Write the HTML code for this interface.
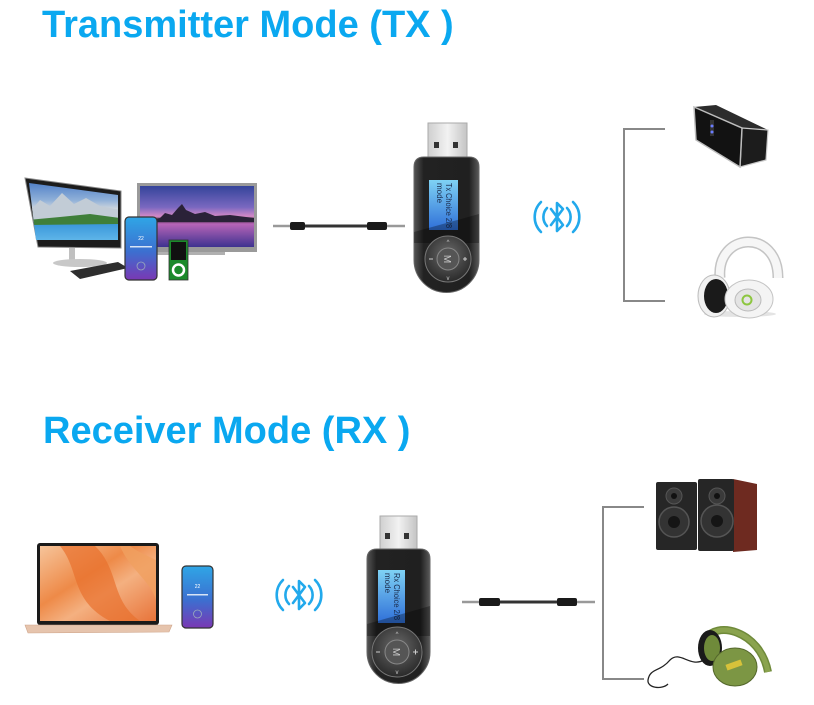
<!DOCTYPE html>
<html><head><meta charset="utf-8"><style>
html,body{margin:0;padding:0;background:#fff;width:814px;height:705px;overflow:hidden}
svg{display:block}
</style></head><body>
<svg width="814" height="705" viewBox="0 0 814 705" xmlns="http://www.w3.org/2000/svg">
<defs>
<linearGradient id="mon" x1="0" y1="0" x2="0" y2="1">
<stop offset="0" stop-color="#4f7fc8"/><stop offset="0.3" stop-color="#8fb0d8"/><stop offset="0.45" stop-color="#cfd6dd"/><stop offset="0.55" stop-color="#4d8a44"/><stop offset="0.62" stop-color="#2f8fd6"/><stop offset="1" stop-color="#63b8ea"/></linearGradient>
<linearGradient id="tv" x1="0" y1="0" x2="0" y2="1">
<stop offset="0" stop-color="#34449a"/><stop offset="0.35" stop-color="#7a68c0"/><stop offset="0.5" stop-color="#d58ac6"/><stop offset="0.56" stop-color="#2a2030"/><stop offset="0.62" stop-color="#b865b8"/><stop offset="1" stop-color="#3e3290"/></linearGradient>
<linearGradient id="ph" x1="0" y1="0" x2="0" y2="1">
<stop offset="0" stop-color="#2fa6e6"/><stop offset="0.55" stop-color="#3c6fd0"/><stop offset="1" stop-color="#7a38b4"/></linearGradient>
<linearGradient id="lap" x1="0" y1="0" x2="1" y2="1">
<stop offset="0" stop-color="#f6c49a"/><stop offset="0.4" stop-color="#ee8a48"/><stop offset="0.6" stop-color="#f4b080"/><stop offset="1" stop-color="#e8743a"/></linearGradient>
<linearGradient id="usb" x1="0" y1="0" x2="1" y2="0">
<stop offset="0" stop-color="#cfcfcf"/><stop offset="0.5" stop-color="#f2f2f2"/><stop offset="1" stop-color="#c4c4c4"/></linearGradient>
<linearGradient id="body" x1="0" y1="0" x2="1" y2="0">
<stop offset="0" stop-color="#555"/><stop offset="0.15" stop-color="#222"/><stop offset="0.85" stop-color="#202020"/><stop offset="1" stop-color="#5a5a5a"/></linearGradient>
<linearGradient id="scr" x1="0" y1="0" x2="0" y2="1">
<stop offset="0" stop-color="#7fd2f4"/><stop offset="1" stop-color="#2f6fd8"/></linearGradient>
<radialGradient id="btn" cx="0.5" cy="0.4" r="0.6">
<stop offset="0" stop-color="#6a6a6a"/><stop offset="1" stop-color="#2a2a2a"/></radialGradient>
<clipPath id="monclip"><polygon points="29,183 118,195 118,240 36,240"/></clipPath>
</defs>

<!-- Titles -->
<text x="42" y="37" font-family="Liberation Sans, Arial, sans-serif" font-weight="bold" font-size="38" fill="#0aa8f0">Transmitter Mode (TX )</text>
<text x="43" y="443" font-family="Liberation Sans, Arial, sans-serif" font-weight="bold" font-size="38" fill="#0aa8f0">Receiver Mode (RX )</text>

<!-- ===== TOP: sources ===== -->
<polygon points="25,178 121,191 121,248 38,247" fill="#1c1c1c" stroke="#888" stroke-width="1"/>
<g clip-path="url(#monclip)">
<rect x="28" y="182" width="92" height="60" fill="url(#mon)"/>
<polygon points="28,214 40,200 50,206 62,193 74,204 86,198 100,206 120,210 120,222 28,222" fill="#c2ccd6"/>
<polygon points="28,220 60,217 90,214 120,218 120,224 28,225" fill="#3f7f3a"/>
</g>
<rect x="69" y="248" width="6" height="13" fill="#c0c0c0"/>
<ellipse cx="80" cy="263" rx="27" ry="4" fill="#c8c8c8"/>
<polygon points="70,271 118,262 128,268 80,279" fill="#2e2e2e"/>

<rect x="137" y="183" width="120" height="69" fill="#9a9a9a"/>
<rect x="140" y="186" width="114" height="61" fill="url(#tv)"/>
<polygon points="150,220 160,218 165,213 172,215 178,208 182,204 186,210 195,214 205,212 215,216 230,215 254,218 254,222 140,222 140,219" fill="#2a2238"/>
<rect x="157" y="252" width="68" height="3" fill="#b0b0b0"/>

<rect x="125" y="217" width="32" height="63" rx="4" fill="url(#ph)" stroke="#333" stroke-width="1.2"/>
<text x="141" y="240" font-family="Liberation Sans, sans-serif" font-size="5" fill="#fff" text-anchor="middle">22</text>
<rect x="130" y="246" width="22" height="1.5" fill="#fff" opacity="0.8"/>
<circle cx="141" cy="266" r="4" fill="none" stroke="#9ab" stroke-width="0.8"/>

<rect x="169" y="240" width="19" height="40" fill="#1b8a2b" stroke="#333" stroke-width="0.8"/>
<rect x="171" y="242" width="15" height="18" fill="#111"/>
<circle cx="178.5" cy="270" r="5.5" fill="#1b8a2b" stroke="#fff" stroke-width="2.5"/>

<!-- Cable top -->
<line x1="273" y1="226" x2="290" y2="226" stroke="#999" stroke-width="2.5"/>
<rect x="290" y="222" width="15" height="8" rx="2" fill="#1a1a1a"/>
<line x1="305" y1="226" x2="367" y2="226" stroke="#333" stroke-width="3"/>
<rect x="367" y="222" width="20" height="8" rx="2" fill="#1a1a1a"/>
<line x1="387" y1="226" x2="405" y2="226" stroke="#999" stroke-width="2.5"/>

<!-- Dongle top -->
<rect x="428" y="123" width="39" height="35" fill="url(#usb)" stroke="#aaa" stroke-width="1"/>
<rect x="434" y="142" width="5" height="6" fill="#333"/>
<rect x="453" y="142" width="5" height="6" fill="#333"/>
<path d="M424,157 L469,157 Q479,157 479,167 L479,260 A32.5,32.5 0 0 1 414,260 L414,167 Q414,157 424,157 Z" fill="url(#body)" stroke="#666" stroke-width="1"/>
<rect x="429" y="180" width="29" height="50" fill="url(#scr)"/>
<text transform="translate(446,183) rotate(90)" font-family="Liberation Sans, sans-serif" font-size="8" fill="#1a2a4a" textLength="45" lengthAdjust="spacingAndGlyphs">Tx Choice  2/8</text>
<text transform="translate(437,183) rotate(90)" font-family="Liberation Sans, sans-serif" font-size="8" fill="#1a2a4a">mode</text>
<polygon points="414,232 479,214 479,243 414,243" fill="#000" opacity="0.3"/>
<circle cx="448" cy="259" r="23" fill="url(#btn)" stroke="#777" stroke-width="1"/>
<circle cx="448" cy="259" r="11" fill="#555" stroke="#888" stroke-width="1"/>
<text transform="translate(444,259) rotate(90)" font-family="Liberation Sans, sans-serif" font-size="10" fill="#ccc" text-anchor="middle">M</text>
<text x="448" y="244" font-family="Liberation Sans, sans-serif" font-size="6" fill="#ccc" text-anchor="middle">^</text>
<text x="448" y="280" font-family="Liberation Sans, sans-serif" font-size="6" fill="#ccc" text-anchor="middle">v</text>
<line x1="429" y1="259" x2="433" y2="259" stroke="#ccc" stroke-width="1"/>
<line x1="463" y1="259" x2="467" y2="259" stroke="#ccc" stroke-width="1"/>
<line x1="465" y1="257" x2="465" y2="261" stroke="#ccc" stroke-width="1"/>

<!-- Bluetooth top -->
<g fill="none" stroke="#22a9ec" stroke-width="2.6" stroke-linecap="round" stroke-linejoin="round">
<path d="M551,209 L563,225 L557,231 L557,203 L563,209 L551,225"/>
<path d="M547,208 A13,13 0 0 0 547,226"/>
<path d="M541,202 A21,21 0 0 0 541,232"/>
<path d="M567,208 A13,13 0 0 1 567,226"/>
<path d="M573,202 A21,21 0 0 1 573,232"/>
</g>

<!-- Bracket top -->
<path d="M665,129 L624,129 L624,301 L665,301" fill="none" stroke="#888" stroke-width="2"/>

<!-- Speaker top -->
<polygon points="694,107 716,105 768,130 742,128" fill="#2c2c2c"/>
<polygon points="742,128 768,130 766,160 740,167" fill="#1c1c1c" stroke="#c8c8c8" stroke-width="1.2"/>
<polygon points="694,107 742,128 740,167 696,140" fill="#121212" stroke="#bdbdbd" stroke-width="1.5"/>
<rect x="710" y="120" width="4" height="16" fill="#333"/>
<circle cx="712" cy="126" r="1.5" fill="#6a7cff"/>
<circle cx="712" cy="132" r="1.5" fill="#6a7cff"/>

<!-- Headphones top (white) -->
<ellipse cx="740" cy="314" rx="36" ry="3" fill="#e4e4e4"/>
<path d="M720,278 C716,232 778,228 778,278" fill="none" stroke="#c4c4c4" stroke-width="11"/>
<path d="M720,278 C716,232 778,228 778,278" fill="none" stroke="#f6f6f6" stroke-width="8"/>
<ellipse cx="714" cy="296" rx="16" ry="21" fill="#f0f0f0" stroke="#bbb"/>
<ellipse cx="716" cy="296" rx="12" ry="17" fill="#1a1a1a"/>
<ellipse cx="749" cy="299" rx="24" ry="19" fill="#f4f4f4" stroke="#c4c4c4"/>
<ellipse cx="748" cy="300" rx="13" ry="11" fill="#e4e4e4" stroke="#bbb"/>
<circle cx="747" cy="300" r="4.5" fill="none" stroke="#8cc63f" stroke-width="2"/>

<!-- ===== BOTTOM ===== -->
<rect x="37" y="543" width="122" height="82" rx="3" fill="#1a1a1a"/>
<rect x="40" y="546" width="116" height="75" fill="url(#lap)"/>
<path d="M60,546 C80,570 70,600 110,621 L140,621 C110,600 120,570 95,546 Z" fill="#e8702e" opacity="0.7"/>
<path d="M120,546 C130,570 150,580 156,600 L156,560 C145,555 135,550 130,546 Z" fill="#f0a060" opacity="0.8"/>
<polygon points="25,625 172,625 169,632 28,633" fill="#e6c4ad" stroke="#cfa58a" stroke-width="0.6"/>

<rect x="182" y="566" width="31" height="62" rx="4" fill="url(#ph)" stroke="#333" stroke-width="1.2"/>
<text x="197.5" y="588" font-family="Liberation Sans, sans-serif" font-size="5" fill="#fff" text-anchor="middle">22</text>
<rect x="187" y="594" width="21" height="1.5" fill="#fff" opacity="0.8"/>
<circle cx="197.5" cy="614" r="4" fill="none" stroke="#9ab" stroke-width="0.8"/>

<g fill="none" stroke="#22a9ec" stroke-width="2.6" stroke-linecap="round" stroke-linejoin="round">
<path d="M293,587 L305,603 L299,609 L299,581 L305,587 L293,603"/>
<path d="M289,586 A13,13 0 0 0 289,604"/>
<path d="M283,580 A21,21 0 0 0 283,610"/>
<path d="M309,586 A13,13 0 0 1 309,604"/>
<path d="M315,580 A21,21 0 0 1 315,610"/>
</g>

<!-- Dongle bottom -->
<rect x="380" y="516" width="37" height="34" fill="url(#usb)" stroke="#aaa" stroke-width="1"/>
<rect x="385" y="533" width="5" height="6" fill="#333"/>
<rect x="404" y="533" width="5" height="6" fill="#333"/>
<path d="M377,549 L420,549 Q430,549 430,559 L430,652 A31.5,31.5 0 0 1 367,652 L367,559 Q367,549 377,549 Z" fill="url(#body)" stroke="#666" stroke-width="1"/>
<rect x="378" y="570" width="27" height="53" fill="url(#scr)"/>
<text transform="translate(394,573) rotate(90)" font-family="Liberation Sans, sans-serif" font-size="8" fill="#1a2a4a" textLength="47" lengthAdjust="spacingAndGlyphs">Rx Choice  2/8</text>
<text transform="translate(385,573) rotate(90)" font-family="Liberation Sans, sans-serif" font-size="8" fill="#1a2a4a">mode</text>
<polygon points="367,624 430,606 430,636 367,636" fill="#000" opacity="0.3"/>
<circle cx="397" cy="652" r="25" fill="url(#btn)" stroke="#777" stroke-width="1"/>
<circle cx="397" cy="652" r="12" fill="#555" stroke="#888" stroke-width="1"/>
<text transform="translate(393,652) rotate(90)" font-family="Liberation Sans, sans-serif" font-size="10" fill="#ccc" text-anchor="middle">M</text>
<text x="397" y="636" font-family="Liberation Sans, sans-serif" font-size="6" fill="#ccc" text-anchor="middle">^</text>
<text x="397" y="674" font-family="Liberation Sans, sans-serif" font-size="6" fill="#ccc" text-anchor="middle">v</text>
<line x1="376" y1="652" x2="380" y2="652" stroke="#ccc" stroke-width="1"/>
<line x1="413" y1="652" x2="418" y2="652" stroke="#ccc" stroke-width="1"/>
<line x1="415.5" y1="649.5" x2="415.5" y2="654.5" stroke="#ccc" stroke-width="1"/>

<!-- Cable bottom -->
<line x1="462" y1="602" x2="479" y2="602" stroke="#999" stroke-width="2.5"/>
<rect x="479" y="598" width="21" height="8" rx="2" fill="#1a1a1a"/>
<line x1="500" y1="602" x2="557" y2="602" stroke="#333" stroke-width="3"/>
<rect x="557" y="598" width="20" height="8" rx="2" fill="#1a1a1a"/>
<line x1="577" y1="602" x2="595" y2="602" stroke="#999" stroke-width="2.5"/>

<!-- Bracket bottom -->
<path d="M644,507 L603,507 L603,679 L644,679" fill="none" stroke="#888" stroke-width="2"/>

<!-- Speakers bottom -->
<rect x="656" y="482" width="41" height="68" rx="2" fill="#262626"/>
<circle cx="674" cy="496" r="8" fill="#3a3a3a" stroke="#555"/>
<circle cx="674" cy="496" r="3" fill="#111"/>
<circle cx="674" cy="522" r="15" fill="#333" stroke="#555" stroke-width="1.5"/>
<circle cx="674" cy="522" r="6" fill="#151515"/>
<polygon points="733,479 757,484 757,550 733,552" fill="#6e2a20"/>
<rect x="698" y="479" width="36" height="72" rx="2" fill="#262626"/>
<circle cx="717" cy="496" r="8" fill="#3a3a3a" stroke="#555"/>
<circle cx="717" cy="496" r="3" fill="#111"/>
<circle cx="717" cy="521" r="16" fill="#333" stroke="#555" stroke-width="1.5"/>
<circle cx="717" cy="521" r="6" fill="#151515"/>

<!-- Headphones bottom (green) -->
<path d="M705,640 C715,620 760,630 768,672" fill="none" stroke="#6f8a3a" stroke-width="8"/>
<path d="M705,640 C715,620 760,630 768,672" fill="none" stroke="#8aa34e" stroke-width="5"/>
<path d="M704,660 C690,668 680,650 670,660 C660,672 650,668 648,680 C647,688 662,690 668,684" fill="none" stroke="#222" stroke-width="1.3"/>
<ellipse cx="710" cy="648" rx="12" ry="18" fill="#1a1a1a"/>
<ellipse cx="712" cy="648" rx="8" ry="13" fill="#6f8a3a"/>
<ellipse cx="735" cy="667" rx="22" ry="19" fill="#7c9644" stroke="#55682c"/>
<rect x="726" y="662" width="16" height="6" fill="#d7c23a" transform="rotate(-20 734 665)"/>
</svg>
</body></html>
